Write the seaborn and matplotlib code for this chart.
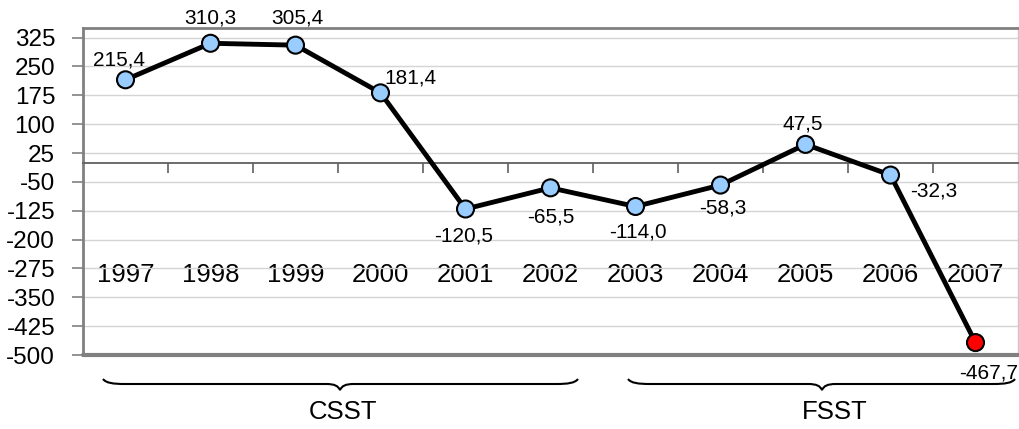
import matplotlib
matplotlib.use("Agg")
import matplotlib.pyplot as plt
import matplotlib.transforms as mtransforms
from matplotlib.path import Path
from matplotlib.patches import PathPatch
import seaborn as sns
import pandas as pd

years = ["1997", "1998", "1999", "2000", "2001", "2002", "2003", "2004", "2005", "2006", "2007"]
values = [215.4, 310.3, 305.4, 181.4, -120.5, -65.5, -114.0, -58.3, 47.5, -32.3, -467.7]
labels = ["215,4", "310,3", "305,4", "181,4", "-120,5", "-65,5", "-114,0", "-58,3", "47,5", "-32,3", "-467,7"]
status = ["normal"] * 10 + ["last"]
yticks = [-500, -425, -350, -275, -200, -125, -50, 25, 100, 175, 250, 325]
groups = ["CSST", "FSST"]

# label offsets in pixels (dx, dy)
offsets = [(-6, 20), (0, 25), (2, 27), (30, 15), (-2, -27), (0, -29),
           (2, -25), (2, -23), (-3, 20), (43, -16), (13, -30)]

sns.set_theme(style="white")
plt.rcParams['font.family'] = ['Liberation Sans', 'DejaVu Sans']
plt.rcParams['text.color'] = 'black'

W, H = 1019, 429
fig = plt.figure(figsize=(W / 100, H / 100), dpi=100)
ax = fig.add_axes([83 / W, (H - 355) / H, (1018 - 83) / W, (355 - 28) / H])

df = pd.DataFrame({"x": range(len(years)), "y": values, "status": status})
sns.lineplot(data=df, x="x", y="y", color="black", lw=3.5, ax=ax, zorder=3)
sns.scatterplot(data=df, x="x", y="y", hue="status",
                palette={"normal": "#99CCFF", "last": "#FF0000"},
                s=150, edgecolor="black", linewidth=1.5, legend=False, ax=ax, zorder=4)

for i, (v, lab) in enumerate(zip(values, labels)):
    dx, dy = offsets[i]
    ax.annotate(lab, (i, v), xytext=(dx, dy), textcoords="offset pixels",
                ha="center", va="center", fontsize=15, color="black",
                annotation_clip=False, zorder=5)

ax.set_xlim(-0.5, len(years) - 0.5)
ax.set_ylim(-500, 350)
ax.set_yticks(yticks)
ax.set_yticklabels([str(t) for t in yticks], fontsize=17.5)
ax.yaxis.grid(True, color="#D4D4D4", lw=1)
ax.set_xlabel("")
ax.set_ylabel("")

# x axis on zero line
ax.spines["bottom"].set_position(("data", 0))
ax.spines["bottom"].set_color("#606060")
ax.spines["bottom"].set_linewidth(1.3)
ax.set_xticks(range(len(years)))
ax.set_xticklabels(years, fontsize=18.5)
ax.set_xticks([i + 0.5 for i in range(len(years) - 1)], minor=True)
ax.tick_params(axis="x", which="major", length=0, pad=72, labelcolor="black")
ax.tick_params(axis="x", which="minor", bottom=True, length=7, width=1.2,
               color="#606060", direction="out")
ax.tick_params(axis="y", which="major", length=8, width=1.2, color="#808080",
               direction="out", pad=12, left=True, labelcolor="black")

ax.spines["left"].set_color("#808080")
ax.spines["left"].set_linewidth(2)
ax.spines["top"].set_color("#808080")
ax.spines["top"].set_linewidth(2)
ax.spines["right"].set_color("#C8C8C8")
ax.spines["right"].set_linewidth(1)
ax.axhline(-500, color="#808080", lw=3, clip_on=False, zorder=6)

# braces (figure pixel coords, y downward)
pix = mtransforms.Affine2D().scale(1 / W, -1 / H).translate(0, 1) + fig.transFigure

def brace(x0, x1, xm, ytop=379, yflat=384, ytip=390):
    verts = [(x0, ytop), (x0 + 3, yflat - 1), (x0 + 10, yflat), (x0 + 22, yflat),
             (xm - 14, yflat),
             (xm - 5, yflat), (xm - 2, yflat + 2), (xm, ytip),
             (xm + 2, yflat + 2), (xm + 5, yflat), (xm + 14, yflat),
             (x1 - 22, yflat),
             (x1 - 10, yflat), (x1 - 3, yflat - 1), (x1, ytop)]
    codes = [Path.MOVETO, Path.CURVE4, Path.CURVE4, Path.CURVE4,
             Path.LINETO,
             Path.CURVE4, Path.CURVE4, Path.CURVE4,
             Path.CURVE4, Path.CURVE4, Path.CURVE4,
             Path.LINETO,
             Path.CURVE4, Path.CURVE4, Path.CURVE4]
    p = PathPatch(Path(verts, codes), transform=pix, fill=False, lw=1.5,
                  edgecolor="black", clip_on=False)
    fig.add_artist(p)

brace(103, 578, 340)
brace(628, 1015, 822)
fig.text(343 / W, 1 - 412 / H, groups[0], ha="center", va="center", fontsize=18.5)
fig.text(835 / W, 1 - 412 / H, groups[1], ha="center", va="center", fontsize=18.5)

fig.savefig("out.png", dpi=100)
